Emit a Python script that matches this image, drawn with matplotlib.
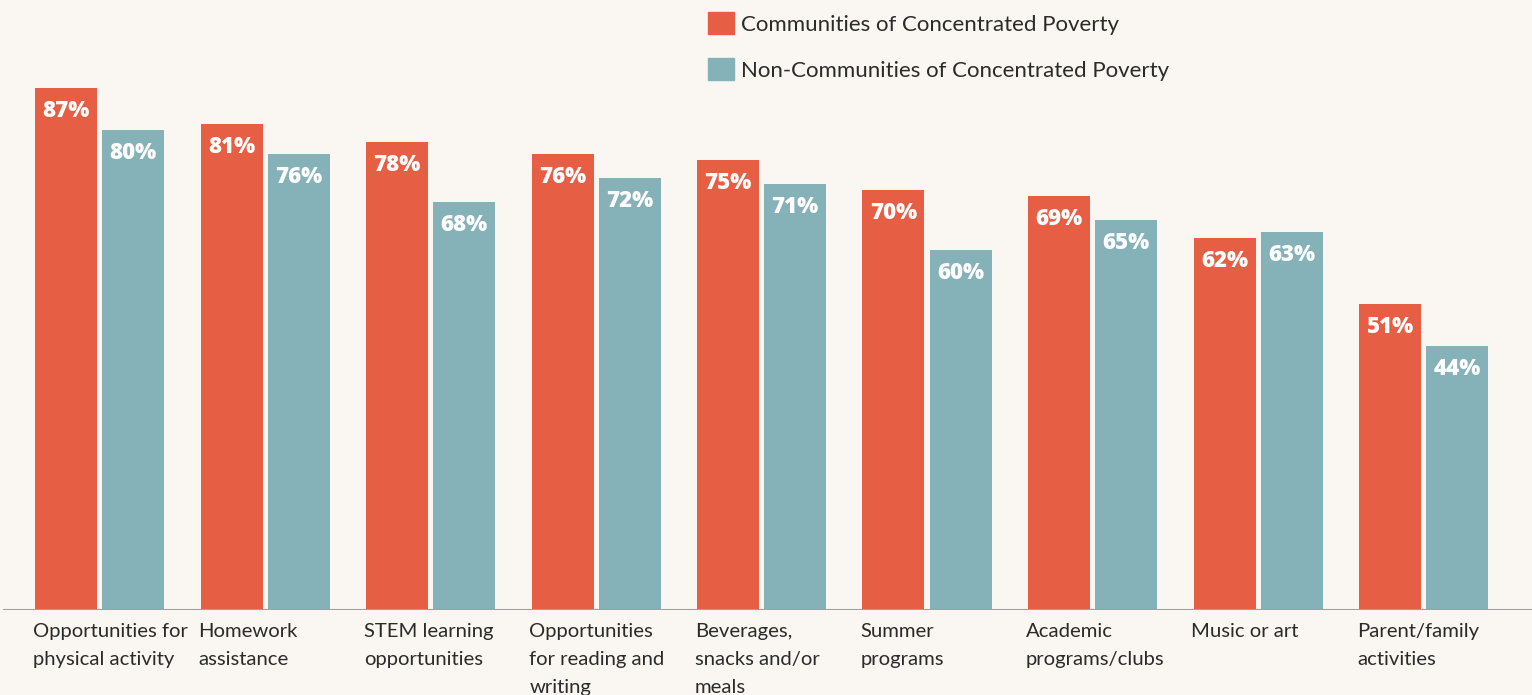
import matplotlib
matplotlib.use('Agg')
import matplotlib.pyplot as plt
from matplotlib.patches import Patch
import numpy as np

categories = [
    "Opportunities for\nphysical activity",
    "Homework\nassistance",
    "STEM learning\nopportunities",
    "Opportunities\nfor reading and\nwriting",
    "Beverages,\nsnacks and/or\nmeals",
    "Summer\nprograms",
    "Academic\nprograms/clubs",
    "Music or art",
    "Parent/family\nactivities",
]
poverty = [87, 81, 78, 76, 75, 70, 69, 62, 51]
non_poverty = [80, 76, 68, 72, 71, 60, 65, 63, 44]
series_names = ["Communities of Concentrated Poverty",
                "Non-Communities of Concentrated Poverty"]

ORANGE = '#E65F45'
TEAL = '#85B1B9'
BG = '#FAF6F1'

W, H = 1532, 695
fig = plt.figure(figsize=(W / 100, H / 100), dpi=100, facecolor=BG)
ax = fig.add_axes([0, 85 / H, 1, 610 / H])
ax.set_facecolor(BG)

pitch = 165.5
x = np.arange(len(categories))
off = 33.5 / pitch
width = 62 / pitch
ax.set_xlim(-99.5 / pitch, (W - 99.5) / pitch)
ax.set_ylim(0, 610 / 6.0)

b1 = ax.bar(x - off, poverty, width, color=ORANGE)
b2 = ax.bar(x + off, non_poverty, width, color=TEAL)

# value labels sit just inside the top of each bar
for bars, vals in ((b1, poverty), (b2, non_poverty)):
    for rect, v in zip(bars, vals):
        ax.annotate(f"{v}%", (rect.get_x() + rect.get_width() / 2, v),
                    xytext=(0, -16.5), textcoords='offset points',
                    ha='center', va='center', color='white',
                    fontsize=16, fontweight='heavy', family='Open Sans')

# category names, left-aligned under the first bar of each group
for xi, label in zip(x, categories):
    ax.annotate(label, (xi - off - width / 2, 0), xytext=(-1.5, -9.5),
                textcoords='offset points', ha='left', va='top',
                fontsize=14.6, color='#2B2B2B', family='Lato',
                linespacing=1.78, annotation_clip=False)

ax.axhline(0, xmin=4 / W, xmax=1, color='#A0A0A0', lw=1.5)
for s in ax.spines.values():
    s.set_visible(False)
ax.set_xticks([])
ax.set_yticks([])

handles = [Patch(color=ORANGE), Patch(color=TEAL)]
fig.legend(handles, series_names, loc='upper left',
           bbox_to_anchor=(699 / W, 1 - 3 / H), frameon=False,
           handlelength=1.17, handleheight=1.17,
           handletextpad=0.3, labelspacing=1.05, borderaxespad=0,
           prop={'family': 'Lato', 'size': 16}, labelcolor='#2B2B2B')

fig.savefig('out.png', dpi=100, facecolor=BG)
